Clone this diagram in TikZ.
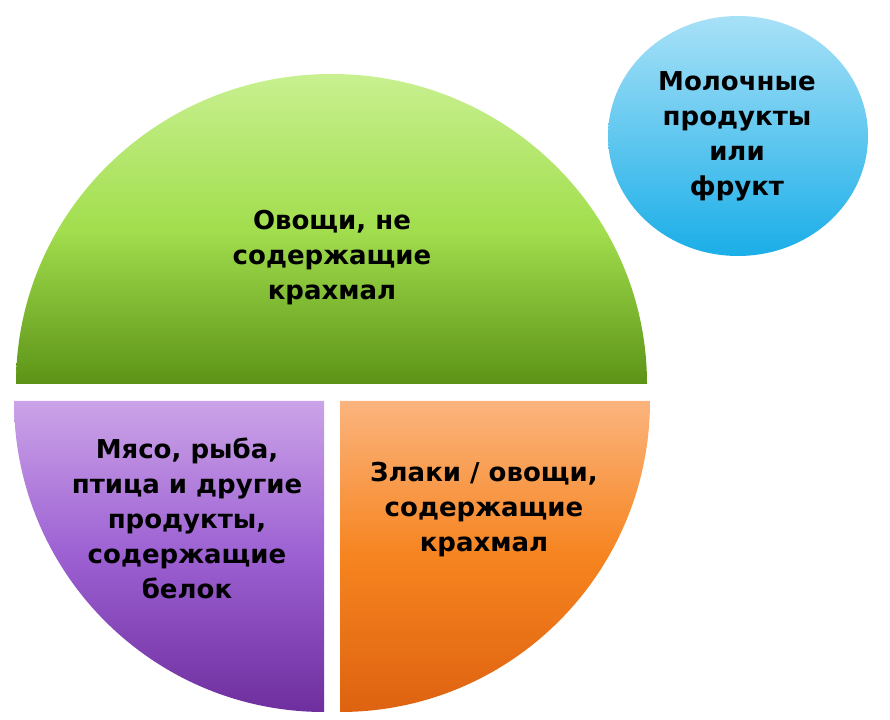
\documentclass[tikz,border=0pt]{standalone}
\usepackage{fontspec}
\setmainfont{DejaVu Sans}
\definecolor{greentop}{HTML}{C8F090}
\definecolor{greenmid}{HTML}{A2DE4E}
\definecolor{greenbot}{HTML}{5C9316}
\definecolor{purpletop}{HTML}{CBA3E8}
\definecolor{purplemid}{HTML}{9C60D2}
\definecolor{purplebot}{HTML}{6E2E9E}
\definecolor{orangetop}{HTML}{FBB47E}
\definecolor{orangemid}{HTML}{F6841F}
\definecolor{orangebot}{HTML}{DE6210}
\definecolor{bluetop}{HTML}{A8E1F7}
\definecolor{bluebot}{HTML}{1AAEE8}
\begin{document}
\begin{tikzpicture}[x=1pt,y=1pt,
        txt/.style={
          align=center, text=black, inner sep=0pt,
          font=\bfseries\fontsize{26}{35}\selectfont
        }
      ]
      \useasboundingbox (0,0) rectangle (890,719);
      % plate: upper half and two quarters
      \shade [top color=greentop, bottom color=greenbot, middle color=greenmid]
        (16,335) arc [start angle=180, end angle=0, x radius=315.5, y radius=310] -- cycle;
      \shade [top color=purpletop, bottom color=purplebot, middle color=purplemid]
        (324,318) -- (14,318) arc [start angle=180, end angle=270, x radius=310, y radius=311] -- cycle;
      \shade [top color=orangetop, bottom color=orangebot, middle color=orangemid]
        (340,318) -- (650,318) arc [start angle=0, end angle=-90, x radius=310, y radius=311] -- cycle;
      % side dish
      \shade [top color=bluetop, bottom color=bluebot]
        (738,583) ellipse [x radius=130, y radius=120];
      \node [txt] (veg) at (332,461) {Овощи, не\\содержащие\\крахмал};
      \node [txt] (meat) at (187,201) {Мясо, рыба,\\птица и другие\\продукты,\\содержащие\\белок};
      \node [txt] (grain) at (484,209) {Злаки / овощи,\\содержащие\\крахмал};
      \node [txt] (dairy) at (737,583) {Молочные\\продукты\\или\\фрукт};
    \end{tikzpicture}
\end{document}
